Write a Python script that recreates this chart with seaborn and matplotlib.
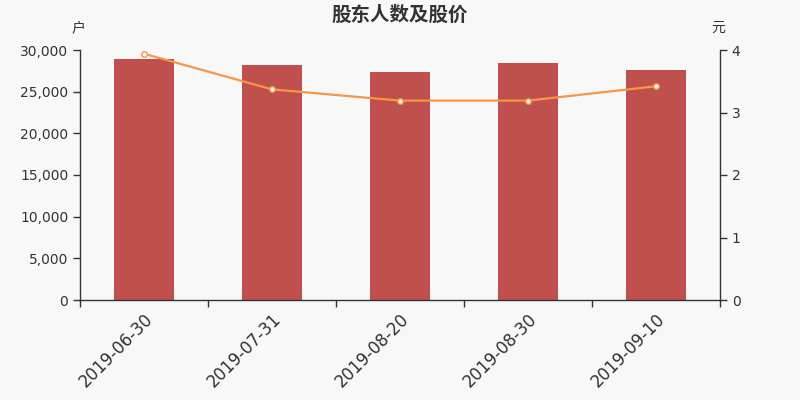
import pandas as pd, matplotlib.pyplot as plt
import seaborn as sns
import matplotlib.ticker as mticker

matplotlib_bg = '#f8f8f8'

# data
dates = ['2019-06-30', '2019-07-31', '2019-08-20', '2019-08-30', '2019-09-10']
holders = [28900, 28150, 27400, 28400, 27650]
price = [3.94, 3.37, 3.19, 3.19, 3.42]

df = pd.DataFrame({'date': dates, 'holders': holders, 'price': price})

sns.set_theme(style='white')
plt.rcParams['font.family'] = ['DejaVu Sans', 'Noto Sans CJK SC']

fig = plt.figure(figsize=(8, 4), dpi=100, facecolor=matplotlib_bg)
ax = fig.add_axes([0.1, 0.25, 0.8, 0.625])
ax.set_facecolor(matplotlib_bg)

sns.barplot(data=df, x='date', y='holders', color='#c0504d', saturation=1,
            width=0.47, linewidth=0, ax=ax)
ax.set_xlim(-0.5, len(dates) - 0.5)
ax.set_ylim(0, 30000)
ax.yaxis.set_major_locator(mticker.MultipleLocator(5000))
ax.yaxis.set_major_formatter(mticker.FuncFormatter(lambda x, _: f'{int(x):,}'))
ax.set_xlabel('')
ax.set_ylabel('')

# ticks between the categories, labels in the middle
ax.set_xticks(range(len(dates)))
ax.set_xticklabels(dates, rotation=45, ha='right', rotation_mode='anchor')
ax.set_xticks([i - 0.5 for i in range(len(dates) + 1)], minor=True)
ax.tick_params(axis='x', which='minor', bottom=True, length=5, width=1,
               color='#333333', direction='out')
ax.tick_params(axis='x', which='major', bottom=True, length=0, labelsize=12,
               labelcolor='#333333', pad=7)
ax.tick_params(axis='y', length=5, width=1, color='#333333', direction='out',
               labelsize=10, labelcolor='#333333', left=True)

for s in ['left', 'bottom']:
    ax.spines[s].set_color('#333333')
    ax.spines[s].set_linewidth(1)
ax.spines['top'].set_visible(False)
ax.spines['right'].set_visible(False)

ax2 = ax.twinx()
sns.lineplot(data=df, x='date', y='price', color='#f79646', linewidth=1.6,
             marker='o', markersize=4, markerfacecolor='white',
             markeredgecolor='#f79646', markeredgewidth=1, ax=ax2)
ax2.set_ylim(0, 4)
ax2.yaxis.set_major_locator(mticker.MultipleLocator(1))
ax2.set_xlim(-0.5, len(dates) - 0.5)
ax2.set_ylabel('')
ax2.tick_params(axis='y', length=5, width=1, color='#333333', direction='out',
                labelsize=10, labelcolor='#333333', right=True)
ax2.spines['right'].set_color('#333333')
ax2.spines['right'].set_linewidth(1)
for s in ['top', 'left', 'bottom']:
    ax2.spines[s].set_visible(False)

fig.text(0.5, 0.962, '股东人数及股价', ha='center', va='center', fontsize=14,
         fontweight='bold', color='#333333', family=['Noto Sans CJK SC', 'DejaVu Sans'])
fig.text(0.098, 0.93, '户', ha='center', va='center', fontsize=10, color='#333333',
         family=['Noto Sans CJK SC', 'DejaVu Sans'])
fig.text(0.898, 0.93, '元', ha='center', va='center', fontsize=10, color='#333333',
         family=['Noto Sans CJK SC', 'DejaVu Sans'])

plt.savefig('out.png', dpi=100, facecolor=matplotlib_bg)
plt.close()
